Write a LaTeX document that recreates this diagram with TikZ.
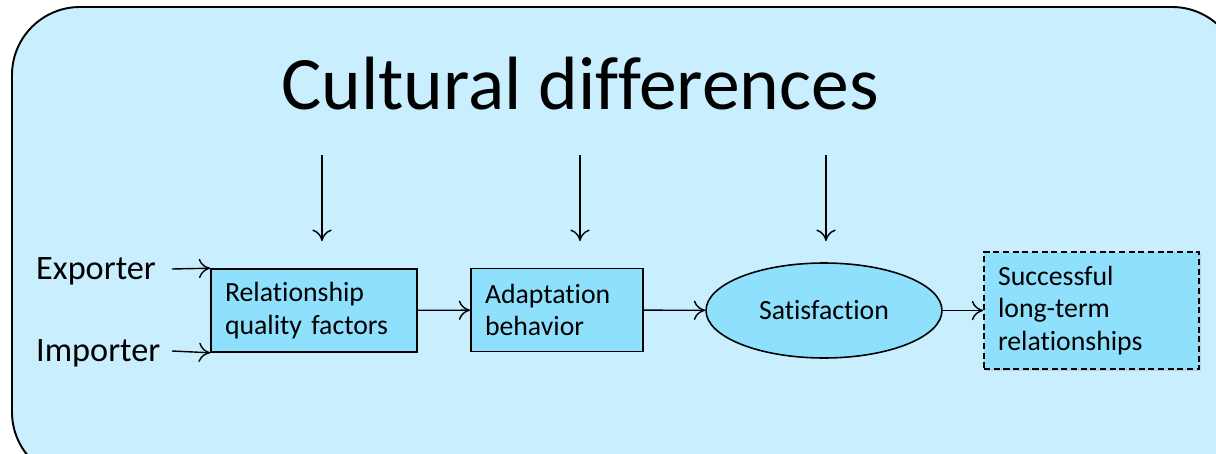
\documentclass[tikz,border=0pt]{standalone}
\usepackage{fontspec}
\setmainfont{Carlito}[Ligatures=NoCommon]
\usetikzlibrary{shapes.geometric,shadows,arrows.meta}
\definecolor{panel area}{HTML}{C9EFFF}
\definecolor{box area}{HTML}{8EE0FC}
\tikzset{panel/.style={fill=panel area, draw=black, line width=1.1pt, rounded corners=1.36cm},
    factor/.style={rectangle, fill=box area, draw=black, line width=0.9pt, align=left,
      inner xsep=0.28cm, font=\fontsize{15.8}{18.5}\selectfont, minimum height=1.66cm},
    goal/.style={ellipse, fill=box area, draw=black, line width=0.9pt, inner sep=0pt,
      minimum width=4.72cm, minimum height=1.9cm, font=\fontsize{15.8}{18.5}\selectfont},
    party/.style={font=\fontsize{19.5}{22}\selectfont, anchor=west},
    link/.style={-{To[length=6.5pt, width=11pt]}, line width=0.8pt}}

\begin{document}
\begin{tikzpicture}[x=0.02cm, y=-0.02cm]
    \useasboundingbox (0,0) rectangle (1216,453);
    \draw[panel] (12,7) rectangle (1240,480);
    \node[font=\fontsize{43}{48}\selectfont] (title) at (580,84) {Cultural differences};
    % the three influences from above
    \coordinate (c1) at (322,155);
    \coordinate (c2) at (580,155);
    \coordinate (c3) at (826,155);
    \coordinate (d1) at (322,241);
    \coordinate (d2) at (580,241);
    \coordinate (d3) at (826,241);
    \foreach \i in {1,2,3}
      \draw[link] (c\i) -- (d\i);
    % the chain
    \node[factor, minimum width=4.12cm, text width=3.56cm] (quality) at (314,310.5)
      {Relationship\\quality factors};
    \node[factor, minimum width=3.44cm, text width=2.88cm] (adapt) at (557,310)
      {Adaptation\\behavior};
    \node[goal] (satis) at (824,310.5) {Satisfaction};
    \node[factor, dash pattern=on 3.5pt off 2pt, minimum width=4.3cm, text width=3.74cm,
      minimum height=2.34cm,
      drop shadow={opacity=0.25, shadow xshift=0.04cm, shadow yshift=-0.04cm}]
      (success) at (1091.5,310.5) {Successful\\long-term\\relationships};
    \node[party] (exp) at (30,271) {Exporter};
    \node[party] (imp) at (30,353) {Importer};
    \coordinate (e0) at (172,269);
    \coordinate (i0) at (172,351);
    \draw[link] (e0) -- (quality.north west);
    \draw[link] (i0) -- (quality.south west);
    \draw[link] (quality) -- (adapt);
    \draw[link] (adapt) -- (satis);
    \draw[link] (satis) -- (success);
\end{tikzpicture}
\end{document}
